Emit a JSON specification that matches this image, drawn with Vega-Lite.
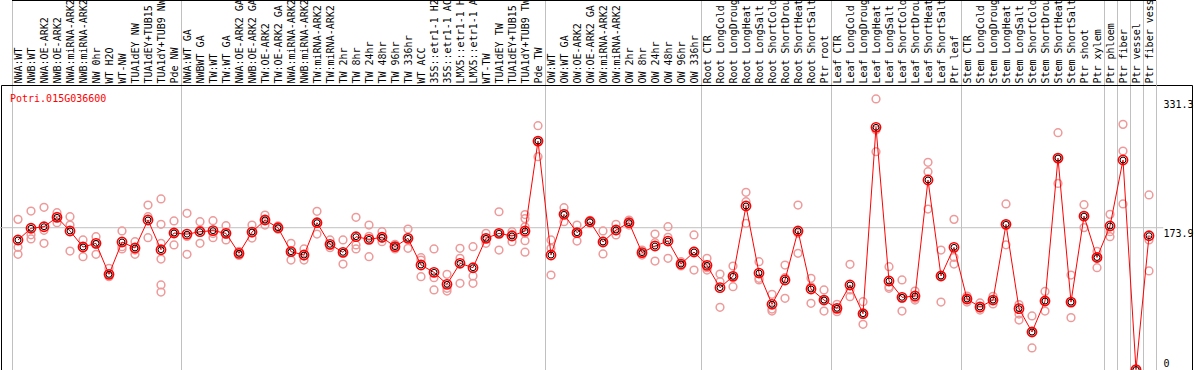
{
  "$schema": "https://vega.github.io/schema/vega-lite/v6.json",
  "width": 1191,
  "height": 285,
  "autosize": "none",
  "padding": {"left": 1, "top": 85, "right": 2, "bottom": 0},
  "background": "white",
  "view": {"stroke": "black", "strokeWidth": 1},
  "title": {"text": "Potri.015G036600", "orient": "top", "anchor": "start", "frame": "group", "offset": -110, "dx": 9, "baseline": "middle", "color": "#ff0000", "font": "DejaVu Sans Mono", "fontSize": 10, "fontWeight": "normal"},
  "resolve": {"axis": {"x": "independent"}},
  "datasets": {
    "grid": [{"v": 173.9}],
    "means": [
      {"s": "NWA:WT", "v": 158.9}, {"s": "NWB:WT", "v": 173.2}, {"s": "NWA:OE-ARK2", "v": 175.1}, {"s": "NWB:OE-ARK2", "v": 186.6},
      {"s": "NWA:miRNA-ARK2", "v": 169.9}, {"s": "NWB:miRNA-ARK2", "v": 150.3}, {"s": "NW 0hr", "v": 154.8}, {"s": "WT H2O", "v": 116.9},
      {"s": "WT-NW", "v": 156.4}, {"s": "TUA1dEY NW", "v": 149.1}, {"s": "TUA1dEY+TUB15 NW", "v": 183.3}, {"s": "TUA1dY+TUB9 NW", "v": 147.0},
      {"s": "Pde NW", "v": 167.4},
      {"s": "NWA:WT GA", "v": 166.0}, {"s": "NWBWT GA", "v": 169.0}, {"s": "TW:WT", "v": 170.3}, {"s": "TW:WT GA", "v": 167.0},
      {"s": "NWA:OE-ARK2 GA", "v": 142.6}, {"s": "NWB:OE-ARK2 GA", "v": 168.6}, {"s": "TW:OE-ARK2", "v": 183.3}, {"s": "TW:OE-ARK2 GA", "v": 173.9},
      {"s": "NWA:miRNA-ARK2 GA", "v": 144.6}, {"s": "NWB:miRNA-ARK2 GA", "v": 140.5}, {"s": "TW:miRNA-ARK2", "v": 180.0}, {"s": "TW:miRNA-ARK2 GA", "v": 153.6},
      {"s": "TW 2hr", "v": 143.8}, {"s": "TW 8hr", "v": 162.9}, {"s": "TW 24hr", "v": 159.7}, {"s": "TW 48hr", "v": 162.2},
      {"s": "TW 96hr", "v": 150.7}, {"s": "TW 336hr", "v": 160.9}, {"s": "WT ACC", "v": 128.3}, {"s": "35S::etr1-1 H2O", "v": 119.4},
      {"s": "35S::etr1-1 ACC", "v": 104.7}, {"s": "LMX5::etr1-1 H2O", "v": 130.4}, {"s": "LMX5::etr1-1 ACC", "v": 125.0}, {"s": "WT-TW", "v": 160.9},
      {"s": "TUA1dEY TW", "v": 167.0}, {"s": "TUA1dEY+TUB15 TW", "v": 163.8}, {"s": "TUA1dY+TUB9 TW", "v": 169.9}, {"s": "Pde TW", "v": 279.8},
      {"s": "OW:WT", "v": 140.5}, {"s": "OW:WT GA", "v": 190.2}, {"s": "OW:OE-ARK2", "v": 167.8}, {"s": "OW:OE-ARK2 GA", "v": 181.2},
      {"s": "OW:miRNA-ARK2", "v": 156.4}, {"s": "OW:miRNA-ARK2 GA", "v": 171.1}, {"s": "OW 2hr", "v": 180.0}, {"s": "OW 8hr", "v": 143.4},
      {"s": "OW 24hr", "v": 151.5}, {"s": "OW 48hr", "v": 157.6}, {"s": "OW 96hr", "v": 129.5}, {"s": "OW 336hr", "v": 144.2},
      {"s": "Root CTR", "v": 127.9}, {"s": "Root LongCold", "v": 100.6}, {"s": "Root LongDrought", "v": 114.5}, {"s": "Root LongHeat", "v": 200.4},
      {"s": "Root LongSalt", "v": 118.5}, {"s": "Root ShortCold", "v": 80.3}, {"s": "Root ShortDrought", "v": 110.0}, {"s": "Root ShortHeat", "v": 169.9},
      {"s": "Root ShortSalt", "v": 99.0}, {"s": "Ptr root", "v": 85.5},
      {"s": "Leaf CTR", "v": 75.4}, {"s": "Leaf LongCold", "v": 103.9}, {"s": "Leaf LongDrought", "v": 68.8}, {"s": "Leaf LongHeat", "v": 296.6},
      {"s": "Leaf LongSalt", "v": 108.8}, {"s": "Leaf ShortCold", "v": 88.8}, {"s": "Leaf ShortDrought", "v": 90.4}, {"s": "Leaf ShortHeat", "v": 232.2},
      {"s": "Leaf ShortSalt", "v": 114.9}, {"s": "Ptr leaf", "v": 149.9},
      {"s": "Stem CTR", "v": 86.8}, {"s": "Stem LongCold", "v": 77.0}, {"s": "Stem LongDrought", "v": 85.5}, {"s": "Stem LongHeat", "v": 178.0},
      {"s": "Stem LongSalt", "v": 75.0}, {"s": "Stem ShortCold", "v": 46.4}, {"s": "Stem ShortDrought", "v": 84.3}, {"s": "Stem ShortHeat", "v": 259.0},
      {"s": "Stem ShortSalt", "v": 83.0}, {"s": "Ptr shoot", "v": 188.0}, {"s": "Ptr xylem", "v": 137.5},
      {"s": "Ptr phloem", "v": 176.0}, {"s": "Ptr fiber", "v": 256.6}, {"s": "Ptr vessel", "v": 0.5}, {"s": "Ptr fiber vessel", "v": 164.1}
    ],
    "reps": [
      {"s": "NWA:WT", "v": 184.1}, {"s": "NWA:WT", "v": 149.9}, {"s": "NWA:WT", "v": 141.4},
      {"s": "NWB:WT", "v": 194.3}, {"s": "NWB:WT", "v": 160.1}, {"s": "NWB:WT", "v": 165.2},
      {"s": "NWA:OE-ARK2", "v": 198.8}, {"s": "NWA:OE-ARK2", "v": 170.7}, {"s": "NWA:OE-ARK2", "v": 154.8},
      {"s": "NWB:OE-ARK2", "v": 192.2}, {"s": "NWB:OE-ARK2", "v": 180.0}, {"s": "NWB:OE-ARK2", "v": 187.6},
      {"s": "NWA:miRNA-ARK2", "v": 187.3}, {"s": "NWA:miRNA-ARK2", "v": 177.2}, {"s": "NWA:miRNA-ARK2", "v": 145.4},
      {"s": "NWB:miRNA-ARK2", "v": 158.9}, {"s": "NWB:miRNA-ARK2", "v": 149.5}, {"s": "NWB:miRNA-ARK2", "v": 138.5},
      {"s": "NW 0hr", "v": 162.9}, {"s": "NW 0hr", "v": 153.6}, {"s": "NW 0hr", "v": 141.4},
      {"s": "WT H2O", "v": 124.3}, {"s": "WT H2O", "v": 116.9}, {"s": "WT H2O", "v": 114.0},
      {"s": "WT-NW", "v": 169.9}, {"s": "WT-NW", "v": 150.7}, {"s": "WT-NW", "v": 147.9},
      {"s": "TUA1dEY NW", "v": 156.8}, {"s": "TUA1dEY NW", "v": 146.6}, {"s": "TUA1dEY NW", "v": 141.4},
      {"s": "TUA1dEY+TUB15 NW", "v": 201.6}, {"s": "TUA1dEY+TUB15 NW", "v": 187.3}, {"s": "TUA1dEY+TUB15 NW", "v": 161.7},
      {"s": "TUA1dY+TUB9 NW", "v": 209.0}, {"s": "TUA1dY+TUB9 NW", "v": 178.0}, {"s": "TUA1dY+TUB9 NW", "v": 154.8}, {"s": "TUA1dY+TUB9 NW", "v": 135.6}, {"s": "TUA1dY+TUB9 NW", "v": 103.9}, {"s": "TUA1dY+TUB9 NW", "v": 95.3},
      {"s": "Pde NW", "v": 182.1}, {"s": "Pde NW", "v": 152.8}, {"s": "Pde NW", "v": 167.4},
      {"s": "NWA:WT GA", "v": 191.5}, {"s": "NWA:WT GA", "v": 141.4}, {"s": "NWA:WT GA", "v": 163.3},
      {"s": "NWBWT GA", "v": 181.2}, {"s": "NWBWT GA", "v": 154.8}, {"s": "NWBWT GA", "v": 171.0},
      {"s": "TW:WT", "v": 182.5}, {"s": "TW:WT", "v": 161.7}, {"s": "TW:WT", "v": 166.7},
      {"s": "TW:WT GA", "v": 176.3}, {"s": "TW:WT GA", "v": 158.9}, {"s": "TW:WT GA", "v": 166.0},
      {"s": "NWA:OE-ARK2 GA", "v": 140.0}, {"s": "NWA:OE-ARK2 GA", "v": 143.0}, {"s": "NWA:OE-ARK2 GA", "v": 145.0},
      {"s": "NWB:OE-ARK2 GA", "v": 177.2}, {"s": "NWB:OE-ARK2 GA", "v": 161.3}, {"s": "NWB:OE-ARK2 GA", "v": 167.3},
      {"s": "TW:OE-ARK2", "v": 189.4}, {"s": "TW:OE-ARK2", "v": 177.2}, {"s": "TW:OE-ARK2", "v": 183.3},
      {"s": "TW:OE-ARK2 GA", "v": 172.0}, {"s": "TW:OE-ARK2 GA", "v": 174.0}, {"s": "TW:OE-ARK2 GA", "v": 176.0},
      {"s": "NWA:miRNA-ARK2 GA", "v": 154.8}, {"s": "NWA:miRNA-ARK2 GA", "v": 134.4}, {"s": "NWA:miRNA-ARK2 GA", "v": 144.6},
      {"s": "NWB:miRNA-ARK2 GA", "v": 147.9}, {"s": "NWB:miRNA-ARK2 GA", "v": 134.4}, {"s": "NWB:miRNA-ARK2 GA", "v": 139.2},
      {"s": "TW:miRNA-ARK2", "v": 193.9}, {"s": "TW:miRNA-ARK2", "v": 166.2}, {"s": "TW:miRNA-ARK2", "v": 180.0},
      {"s": "TW:miRNA-ARK2 GA", "v": 158.9}, {"s": "TW:miRNA-ARK2 GA", "v": 149.5}, {"s": "TW:miRNA-ARK2 GA", "v": 152.4},
      {"s": "TW 2hr", "v": 158.9}, {"s": "TW 2hr", "v": 129.5}, {"s": "TW 2hr", "v": 143.0},
      {"s": "TW 8hr", "v": 186.6}, {"s": "TW 8hr", "v": 152.8}, {"s": "TW 8hr", "v": 147.9},
      {"s": "TW 24hr", "v": 177.2}, {"s": "TW 24hr", "v": 138.5}, {"s": "TW 24hr", "v": 163.4},
      {"s": "TW 48hr", "v": 169.0}, {"s": "TW 48hr", "v": 156.8}, {"s": "TW 48hr", "v": 161.0},
      {"s": "TW 96hr", "v": 148.0}, {"s": "TW 96hr", "v": 150.5}, {"s": "TW 96hr", "v": 153.6},
      {"s": "TW 336hr", "v": 172.3}, {"s": "TW 336hr", "v": 148.7}, {"s": "TW 336hr", "v": 161.7},
      {"s": "WT ACC", "v": 137.2}, {"s": "WT ACC", "v": 134.4}, {"s": "WT ACC", "v": 114.0},
      {"s": "35S::etr1-1 H2O", "v": 147.9}, {"s": "35S::etr1-1 H2O", "v": 112.8}, {"s": "35S::etr1-1 H2O", "v": 97.8},
      {"s": "35S::etr1-1 ACC", "v": 116.9}, {"s": "35S::etr1-1 ACC", "v": 99.8}, {"s": "35S::etr1-1 ACC", "v": 96.5},
      {"s": "LMX5::etr1-1 H2O", "v": 148.7}, {"s": "LMX5::etr1-1 H2O", "v": 136.5}, {"s": "LMX5::etr1-1 H2O", "v": 106.0},
      {"s": "LMX5::etr1-1 ACC", "v": 150.7}, {"s": "LMX5::etr1-1 ACC", "v": 114.9}, {"s": "LMX5::etr1-1 ACC", "v": 106.0},
      {"s": "WT-TW", "v": 167.0}, {"s": "WT-TW", "v": 160.9}, {"s": "WT-TW", "v": 154.8},
      {"s": "TUA1dEY TW", "v": 193.4}, {"s": "TUA1dEY TW", "v": 167.0}, {"s": "TUA1dEY TW", "v": 146.6},
      {"s": "TUA1dEY+TUB15 TW", "v": 169.0}, {"s": "TUA1dEY+TUB15 TW", "v": 156.8}, {"s": "TUA1dEY+TUB15 TW", "v": 165.6},
      {"s": "TUA1dY+TUB9 TW", "v": 190.0}, {"s": "TUA1dY+TUB9 TW", "v": 185.0}, {"s": "TUA1dY+TUB9 TW", "v": 175.0}, {"s": "TUA1dY+TUB9 TW", "v": 167.0}, {"s": "TUA1dY+TUB9 TW", "v": 158.0}, {"s": "TUA1dY+TUB9 TW", "v": 144.0},
      {"s": "Pde TW", "v": 298.6}, {"s": "Pde TW", "v": 280.0}, {"s": "Pde TW", "v": 260.7},
      {"s": "OW:WT", "v": 158.9}, {"s": "OW:WT", "v": 148.7}, {"s": "OW:WT", "v": 116.1},
      {"s": "OW:WT GA", "v": 198.3}, {"s": "OW:WT GA", "v": 181.2}, {"s": "OW:WT GA", "v": 191.1},
      {"s": "OW:OE-ARK2", "v": 177.2}, {"s": "OW:OE-ARK2", "v": 157.6}, {"s": "OW:OE-ARK2", "v": 168.6},
      {"s": "OW:OE-ARK2 GA", "v": 183.0}, {"s": "OW:OE-ARK2 GA", "v": 181.0}, {"s": "OW:OE-ARK2 GA", "v": 179.6},
      {"s": "OW:miRNA-ARK2", "v": 169.9}, {"s": "OW:miRNA-ARK2", "v": 141.8}, {"s": "OW:miRNA-ARK2", "v": 157.5},
      {"s": "OW:miRNA-ARK2 GA", "v": 178.0}, {"s": "OW:miRNA-ARK2 GA", "v": 165.0}, {"s": "OW:miRNA-ARK2 GA", "v": 170.3},
      {"s": "OW 2hr", "v": 183.3}, {"s": "OW 2hr", "v": 177.2}, {"s": "OW 2hr", "v": 179.5},
      {"s": "OW 8hr", "v": 146.6}, {"s": "OW 8hr", "v": 140.5}, {"s": "OW 8hr", "v": 143.1},
      {"s": "OW 24hr", "v": 166.2}, {"s": "OW 24hr", "v": 155.6}, {"s": "OW 24hr", "v": 133.2},
      {"s": "OW 48hr", "v": 175.1}, {"s": "OW 48hr", "v": 162.2}, {"s": "OW 48hr", "v": 136.5},
      {"s": "OW 96hr", "v": 132.4}, {"s": "OW 96hr", "v": 127.1}, {"s": "OW 96hr", "v": 129.0},
      {"s": "OW 336hr", "v": 165.0}, {"s": "OW 336hr", "v": 122.2}, {"s": "OW 336hr", "v": 145.4},
      {"s": "Root CTR", "v": 136.5}, {"s": "Root CTR", "v": 122.2}, {"s": "Root CTR", "v": 125.0},
      {"s": "Root LongCold", "v": 117.3}, {"s": "Root LongCold", "v": 107.9}, {"s": "Root LongCold", "v": 76.6},
      {"s": "Root LongDrought", "v": 127.1}, {"s": "Root LongDrought", "v": 101.8}, {"s": "Root LongDrought", "v": 114.6},
      {"s": "Root LongHeat", "v": 217.2}, {"s": "Root LongHeat", "v": 205.7}, {"s": "Root LongHeat", "v": 179.3},
      {"s": "Root LongSalt", "v": 132.4}, {"s": "Root LongSalt", "v": 112.1}, {"s": "Root LongSalt", "v": 110.0},
      {"s": "Root ShortCold", "v": 92.5}, {"s": "Root ShortCold", "v": 74.5}, {"s": "Root ShortCold", "v": 72.1},
      {"s": "Root ShortDrought", "v": 128.3}, {"s": "Root ShortDrought", "v": 112.8}, {"s": "Root ShortDrought", "v": 87.6},
      {"s": "Root ShortHeat", "v": 201.6}, {"s": "Root ShortHeat", "v": 167.0}, {"s": "Root ShortHeat", "v": 142.6},
      {"s": "Root ShortSalt", "v": 112.1}, {"s": "Root ShortSalt", "v": 101.8}, {"s": "Root ShortSalt", "v": 81.5},
      {"s": "Ptr root", "v": 97.8}, {"s": "Ptr root", "v": 85.5}, {"s": "Ptr root", "v": 72.1},
      {"s": "Leaf CTR", "v": 80.3}, {"s": "Leaf CTR", "v": 75.4}, {"s": "Leaf CTR", "v": 71.2},
      {"s": "Leaf LongCold", "v": 129.2}, {"s": "Leaf LongCold", "v": 97.8}, {"s": "Leaf LongCold", "v": 89.6},
      {"s": "Leaf LongDrought", "v": 83.5}, {"s": "Leaf LongDrought", "v": 68.8}, {"s": "Leaf LongDrought", "v": 55.8},
      {"s": "Leaf LongHeat", "v": 331.3}, {"s": "Leaf LongHeat", "v": 293.3}, {"s": "Leaf LongHeat", "v": 266.8},
      {"s": "Leaf LongSalt", "v": 126.2}, {"s": "Leaf LongSalt", "v": 101.8}, {"s": "Leaf LongSalt", "v": 99.8},
      {"s": "Leaf ShortCold", "v": 110.0}, {"s": "Leaf ShortCold", "v": 87.6}, {"s": "Leaf ShortCold", "v": 72.1},
      {"s": "Leaf ShortDrought", "v": 96.5}, {"s": "Leaf ShortDrought", "v": 87.6}, {"s": "Leaf ShortDrought", "v": 85.5},
      {"s": "Leaf ShortHeat", "v": 253.8}, {"s": "Leaf ShortHeat", "v": 242.3}, {"s": "Leaf ShortHeat", "v": 196.7},
      {"s": "Leaf ShortSalt", "v": 146.6}, {"s": "Leaf ShortSalt", "v": 83.1}, {"s": "Leaf ShortSalt", "v": 115.0},
      {"s": "Ptr leaf", "v": 184.1}, {"s": "Ptr leaf", "v": 137.7}, {"s": "Ptr leaf", "v": 129.5},
      {"s": "Stem CTR", "v": 90.4}, {"s": "Stem CTR", "v": 86.8}, {"s": "Stem CTR", "v": 83.1},
      {"s": "Stem LongCold", "v": 81.9}, {"s": "Stem LongCold", "v": 75.8}, {"s": "Stem LongCold", "v": 73.3},
      {"s": "Stem LongDrought", "v": 80.7}, {"s": "Stem LongDrought", "v": 85.5}, {"s": "Stem LongDrought", "v": 90.0},
      {"s": "Stem LongHeat", "v": 202.9}, {"s": "Stem LongHeat", "v": 178.0}, {"s": "Stem LongHeat", "v": 153.0},
      {"s": "Stem LongSalt", "v": 80.0}, {"s": "Stem LongSalt", "v": 68.4}, {"s": "Stem LongSalt", "v": 61.1},
      {"s": "Stem ShortCold", "v": 66.0}, {"s": "Stem ShortCold", "v": 46.0}, {"s": "Stem ShortCold", "v": 26.9},
      {"s": "Stem ShortDrought", "v": 96.0}, {"s": "Stem ShortDrought", "v": 84.0}, {"s": "Stem ShortDrought", "v": 72.0},
      {"s": "Stem ShortHeat", "v": 290.0}, {"s": "Stem ShortHeat", "v": 259.0}, {"s": "Stem ShortHeat", "v": 228.0},
      {"s": "Stem ShortSalt", "v": 116.0}, {"s": "Stem ShortSalt", "v": 83.0}, {"s": "Stem ShortSalt", "v": 64.0},
      {"s": "Ptr shoot", "v": 202.0}, {"s": "Ptr shoot", "v": 188.0}, {"s": "Ptr shoot", "v": 174.0},
      {"s": "Ptr xylem", "v": 145.0}, {"s": "Ptr xylem", "v": 137.5}, {"s": "Ptr xylem", "v": 125.0},
      {"s": "Ptr phloem", "v": 190.2}, {"s": "Ptr phloem", "v": 169.0}, {"s": "Ptr phloem", "v": 162.9},
      {"s": "Ptr fiber", "v": 300.2}, {"s": "Ptr fiber", "v": 267.6}, {"s": "Ptr fiber", "v": 202.9},
      {"s": "Ptr vessel", "v": 0.5},
      {"s": "Ptr fiber vessel", "v": 213.9}, {"s": "Ptr fiber vessel", "v": 158.9}, {"s": "Ptr fiber vessel", "v": 121.0}
    ]
  },
  "layer": [
    {
      "data": {"name": "grid"},
      "mark": {"type": "rule", "color": "#c0c0c0", "strokeWidth": 1},
      "encoding": {
        "y": {"field": "v", "type": "quantitative"},
        "x": {"datum": "NWA:WT", "type": "nominal", "bandPosition": -0.9, "axis": null},
        "x2": {"datum": "Ptr fiber vessel", "bandPosition": 1.6}
      }
    },
    {
      "data": {"name": "reps"},
      "mark": {"type": "point", "shape": "circle", "filled": false, "color": "#ee9a9a", "size": 60, "strokeWidth": 1.5, "opacity": 1},
      "encoding": {
        "x": {
          "field": "s", "type": "nominal",
          "scale": {
            "domain": ["NWA:WT", "NWB:WT", "NWA:OE-ARK2", "NWB:OE-ARK2", "NWA:miRNA-ARK2", "NWB:miRNA-ARK2", "NW 0hr", "WT H2O", "WT-NW", "TUA1dEY NW", "TUA1dEY+TUB15 NW", "TUA1dY+TUB9 NW", "Pde NW",
              "NWA:WT GA", "NWBWT GA", "TW:WT", "TW:WT GA", "NWA:OE-ARK2 GA", "NWB:OE-ARK2 GA", "TW:OE-ARK2", "TW:OE-ARK2 GA", "NWA:miRNA-ARK2 GA", "NWB:miRNA-ARK2 GA", "TW:miRNA-ARK2", "TW:miRNA-ARK2 GA", "TW 2hr", "TW 8hr", "TW 24hr", "TW 48hr", "TW 96hr", "TW 336hr", "WT ACC", "35S::etr1-1 H2O", "35S::etr1-1 ACC", "LMX5::etr1-1 H2O", "LMX5::etr1-1 ACC", "WT-TW", "TUA1dEY TW", "TUA1dEY+TUB15 TW", "TUA1dY+TUB9 TW", "Pde TW",
              "OW:WT", "OW:WT GA", "OW:OE-ARK2", "OW:OE-ARK2 GA", "OW:miRNA-ARK2", "OW:miRNA-ARK2 GA", "OW 2hr", "OW 8hr", "OW 24hr", "OW 48hr", "OW 96hr", "OW 336hr",
              "Root CTR", "Root LongCold", "Root LongDrought", "Root LongHeat", "Root LongSalt", "Root ShortCold", "Root ShortDrought", "Root ShortHeat", "Root ShortSalt", "Ptr root",
              "Leaf CTR", "Leaf LongCold", "Leaf LongDrought", "Leaf LongHeat", "Leaf LongSalt", "Leaf ShortCold", "Leaf ShortDrought", "Leaf ShortHeat", "Leaf ShortSalt", "Ptr leaf",
              "Stem CTR", "Stem LongCold", "Stem LongDrought", "Stem LongHeat", "Stem LongSalt", "Stem ShortCold", "Stem ShortDrought", "Stem ShortHeat", "Stem ShortSalt", "Ptr shoot", "Ptr xylem",
              "Ptr phloem", "Ptr fiber", "Ptr vessel", "Ptr fiber vessel"],
            "paddingInner": 0, "paddingOuter": 0, "range": [10.5, 1154.5]
          },
          "axis": {
            "orient": "top", "title": null,
            "labelAngle": -90, "labelAlign": "left", "labelBaseline": "middle",
            "labelFont": "DejaVu Sans Mono", "labelFontSize": 10, "labelColor": "black",
            "labelExpr": "substring(datum.label, 0, 14)", "labelLimit": 0, "labelOverlap": false,
            "labelPadding": -83,
            "ticks": true, "tickSize": 85, "tickBand": "extent", "tickWidth": 1,
            "tickColor": {"condition": {"test": "datum.extra || indexof(['Pde NW','Pde TW','OW 336hr','Ptr root','Ptr leaf','Ptr xylem','Ptr phloem','Ptr fiber','Ptr vessel','Ptr fiber vessel'], datum.value) >= 0", "value": "#c0c0c0"}, "value": "transparent"},
            "grid": true, "gridWidth": 1,
            "gridColor": {"condition": {"test": "datum.extra || indexof(['Pde NW','Pde TW','OW 336hr','Ptr root','Ptr leaf','Ptr xylem','Ptr phloem','Ptr fiber','Ptr vessel','Ptr fiber vessel'], datum.value) >= 0", "value": "#c0c0c0"}, "value": "transparent"},
            "domain": true, "domainColor": "black", "domainWidth": 1
          }
        },
        "y": {
          "field": "v", "type": "quantitative",
          "scale": {"domain": [0, 348.3], "nice": false, "zero": false},
          "axis": {
            "orient": "right", "title": null, "values": [0, 173.9, 331.3],
            "labelExpr": "datum.value == 0 ? '0' : format(datum.value, '.1f')",
            "labelFont": "DejaVu Sans Mono", "labelFontSize": 10, "labelColor": "black",
            "labelAlign": "left", "labelPadding": -29, "ticks": false, "tickSize": 0, "domain": false,
            "labelFlush": true, "labelFlushOffset": -8, "labelOffset": 6,
            "grid": false
          }
        }
      }
    },
    {
      "data": {"name": "means"},
      "mark": {"type": "line", "color": "#ff0000", "strokeWidth": 1},
      "encoding": {
        "x": {"field": "s", "type": "nominal", "axis": {"orient": "top", "offset": 85, "title": null, "labels": false, "ticks": false, "grid": false, "domain": true, "domainColor": "black", "domainWidth": 1}},
        "y": {"field": "v", "type": "quantitative"},
        "order": {"value": null}
      }
    },
    {
      "data": {"name": "means"},
      "mark": {"type": "point", "shape": "circle", "filled": false, "color": "#ff0000", "size": 85, "strokeWidth": 1.6, "opacity": 1},
      "encoding": {
        "x": {"field": "s", "type": "nominal", "axis": null},
        "y": {"field": "v", "type": "quantitative"}
      }
    },
    {
      "data": {"name": "means"},
      "mark": {"type": "point", "shape": "circle", "filled": false, "color": "#000000", "size": 35, "strokeWidth": 1, "opacity": 1},
      "encoding": {
        "x": {"field": "s", "type": "nominal", "axis": null},
        "y": {"field": "v", "type": "quantitative"}
      }
    }
  ]
}
